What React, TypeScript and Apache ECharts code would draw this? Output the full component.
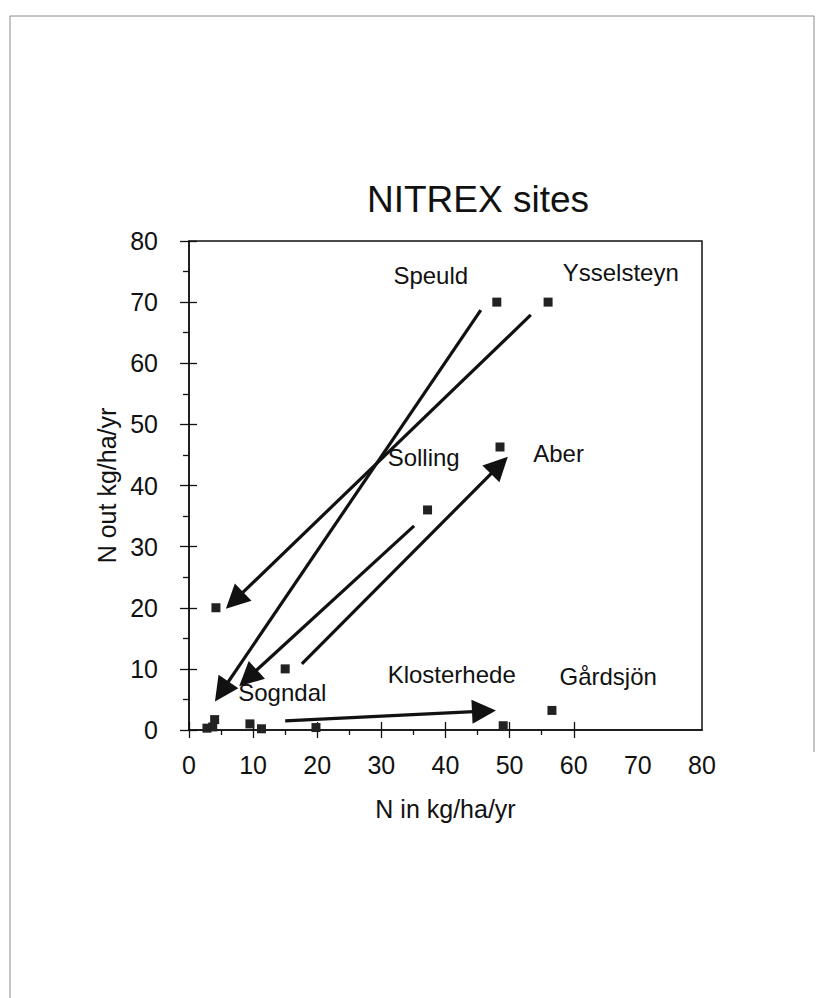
import React, { useEffect, useRef } from "react";
import * as echarts from "echarts";

// ---- data ----
const titleText = "NITREX sites";
const xAxisName = "N in kg/ha/yr";
const yAxisName = "N out kg/ha/yr";

const axisMin = 0;
const axisMax = 80;
const axisStep = 10;

const xMajorTicks = [0, 10, 20, 30, 40, 50, 60];
const xMinorTicks = [5, 15, 25, 35, 45, 55];
const yMajorTicks = [0, 10, 20, 30, 40, 50, 60, 70, 80];
const yMinorTicks = [5, 15, 25, 35, 45, 55, 65, 75];

// measured site points (N in, N out)
const siteIn = [48, 56, 48.5, 37.2, 4.2, 15, 2.8, 3.7, 4, 9.5, 11.3, 19.8, 49, 56.6];
const siteOut = [70, 70, 46.3, 36, 20, 10, 0.3, 0.5, 1.7, 1, 0.2, 0.4, 0.7, 3.2];

// site name labels (anchor = left edge, vertical middle)
const labelNames = ["Speuld", "Ysselsteyn", "Solling", "Aber", "Sogndal", "Klosterhede", "Gårdsjön"];
const labelIn = [31.8, 58.2, 30.9, 53.6, 7.6, 30.9, 57.7];
const labelOut = [74.3, 74.9, 44.5, 45.3, 6.2, 9.0, 8.8];

// arrows (from -> to, tip at "to")
const arrowFromIn = [53.3, 45.5, 35.1, 17.6, 15];
const arrowFromOut = [67.9, 68.7, 33.4, 10.8, 1.5];
const arrowToIn = [7.1, 5.1, 9.2, 48.4, 46];
const arrowToOut = [21.2, 6.3, 8.5, 43.3, 3.1];

const FONT = "'Liberation Sans', Arial, Helvetica, sans-serif";
const INK = "#111";

export default function App() {
  const ref = useRef<HTMLDivElement>(null);

  useEffect(() => {
    if (!ref.current) return;
    const chart = echarts.init(ref.current, undefined, { renderer: "svg" });

    const baseAxis = {
      type: "value" as const,
      min: axisMin,
      max: axisMax,
      interval: axisStep,
      splitLine: { show: false },
    };
    const tickLine = { color: INK, width: 1.3 };

    const option: any = {
      animation: false,
      backgroundColor: "#fff",
      title: {
        text: titleText,
        left: 362,
        top: 176,
        textStyle: { fontFamily: FONT, fontSize: 37, fontWeight: "normal", color: INK },
      },
      grid: {
        left: 189,
        top: 241,
        width: 513,
        height: 489,
        show: true,
        borderColor: INK,
        borderWidth: 1.5,
        backgroundColor: "transparent",
        containLabel: false,
        outerBoundsMode: "none",
      },
      xAxis: [
        {
          ...baseAxis,
          position: "bottom",
          axisLine: { show: true, onZero: false, lineStyle: { color: INK, width: 1.5 } },
          axisTick: { show: false },
          axisLabel: { show: true, margin: 22, fontSize: 25, fontFamily: FONT, color: INK },
          name: xAxisName,
          nameLocation: "middle",
          nameGap: 66,
          nameTextStyle: { fontFamily: FONT, fontSize: 25, color: INK },
        },
        {
          // major ticks crossing the axis line
          ...baseAxis,
          position: "bottom",
          offset: -8,
          axisLine: { show: false, onZero: false },
          axisTick: { show: true, inside: false, length: 16, customValues: xMajorTicks, lineStyle: tickLine },
          axisLabel: { show: false },
        },
        {
          // minor ticks outside
          ...baseAxis,
          interval: axisStep / 2,
          position: "bottom",
          axisLine: { show: false, onZero: false },
          axisTick: { show: true, inside: false, length: 5, customValues: xMinorTicks, lineStyle: tickLine },
          axisLabel: { show: false },
        },
      ],
      yAxis: [
        {
          ...baseAxis,
          position: "left",
          axisLine: { show: true, onZero: false, lineStyle: { color: INK, width: 1.5 } },
          axisTick: { show: false },
          axisLabel: { show: true, margin: 31, fontSize: 25, fontFamily: FONT, color: INK },
          name: yAxisName,
          nameLocation: "middle",
          nameGap: 70,
          nameTextStyle: { fontFamily: FONT, fontSize: 25, color: INK },
        },
        {
          ...baseAxis,
          position: "left",
          offset: -8,
          axisLine: { show: false, onZero: false },
          axisTick: { show: true, inside: false, length: 17, customValues: yMajorTicks, lineStyle: tickLine },
          axisLabel: { show: false },
        },
        {
          ...baseAxis,
          interval: axisStep / 2,
          position: "left",
          axisLine: { show: false, onZero: false },
          axisTick: { show: true, inside: false, length: 6, customValues: yMinorTicks, lineStyle: tickLine },
          axisLabel: { show: false },
        },
      ],
      series: [
        {
          type: "lines",
          coordinateSystem: "cartesian2d",
          xAxisIndex: 0,
          yAxisIndex: 0,
          symbol: ["none", "triangle"],
          symbolSize: 24,
          symbolOffset: [[0, 0], [0, 12]],
          lineStyle: { color: INK, width: 3.2, opacity: 1 },
          itemStyle: { color: INK },
          data: arrowFromIn.map((x, i) => ({
            coords: [
              [x, arrowFromOut[i]],
              [arrowToIn[i], arrowToOut[i]],
            ],
          })),
          z: 3,
        },
        {
          type: "scatter",
          xAxisIndex: 0,
          yAxisIndex: 0,
          symbol: "rect",
          symbolSize: 9,
          itemStyle: { color: "#222", opacity: 1 },
          data: siteIn.map((x, i) => [x, siteOut[i]]),
          z: 4,
        },
        {
          type: "scatter",
          xAxisIndex: 0,
          yAxisIndex: 0,
          symbol: "circle",
          symbolSize: 1,
          itemStyle: { color: "rgba(0,0,0,0)", opacity: 1 },
          label: {
            show: true,
            position: "right",
            distance: 0,
            formatter: (p: any) => p.data[2],
            fontFamily: FONT,
            fontSize: 24,
            color: INK,
            opacity: 1,
          },
          data: labelNames.map((n, i) => [labelIn[i], labelOut[i], n]),
          z: 5,
        },
      ],
      graphic: [
        { type: "line", shape: { x1: 10, y1: 16, x2: 814, y2: 16 }, style: { stroke: "#8a8a8a", lineWidth: 1 } },
        { type: "line", shape: { x1: 10, y1: 16, x2: 10, y2: 998 }, style: { stroke: "#8a8a8a", lineWidth: 1 } },
        { type: "line", shape: { x1: 814, y1: 16, x2: 814, y2: 752 }, style: { stroke: "#8a8a8a", lineWidth: 1 } },
      ],
    };

    chart.setOption(option);
    return () => chart.dispose();
  }, []);

  return (
    <div
      ref={ref}
      style={{ position: "fixed", left: 0, top: 0, width: 816, height: 998, background: "#fff" }}
    />
  );
}
